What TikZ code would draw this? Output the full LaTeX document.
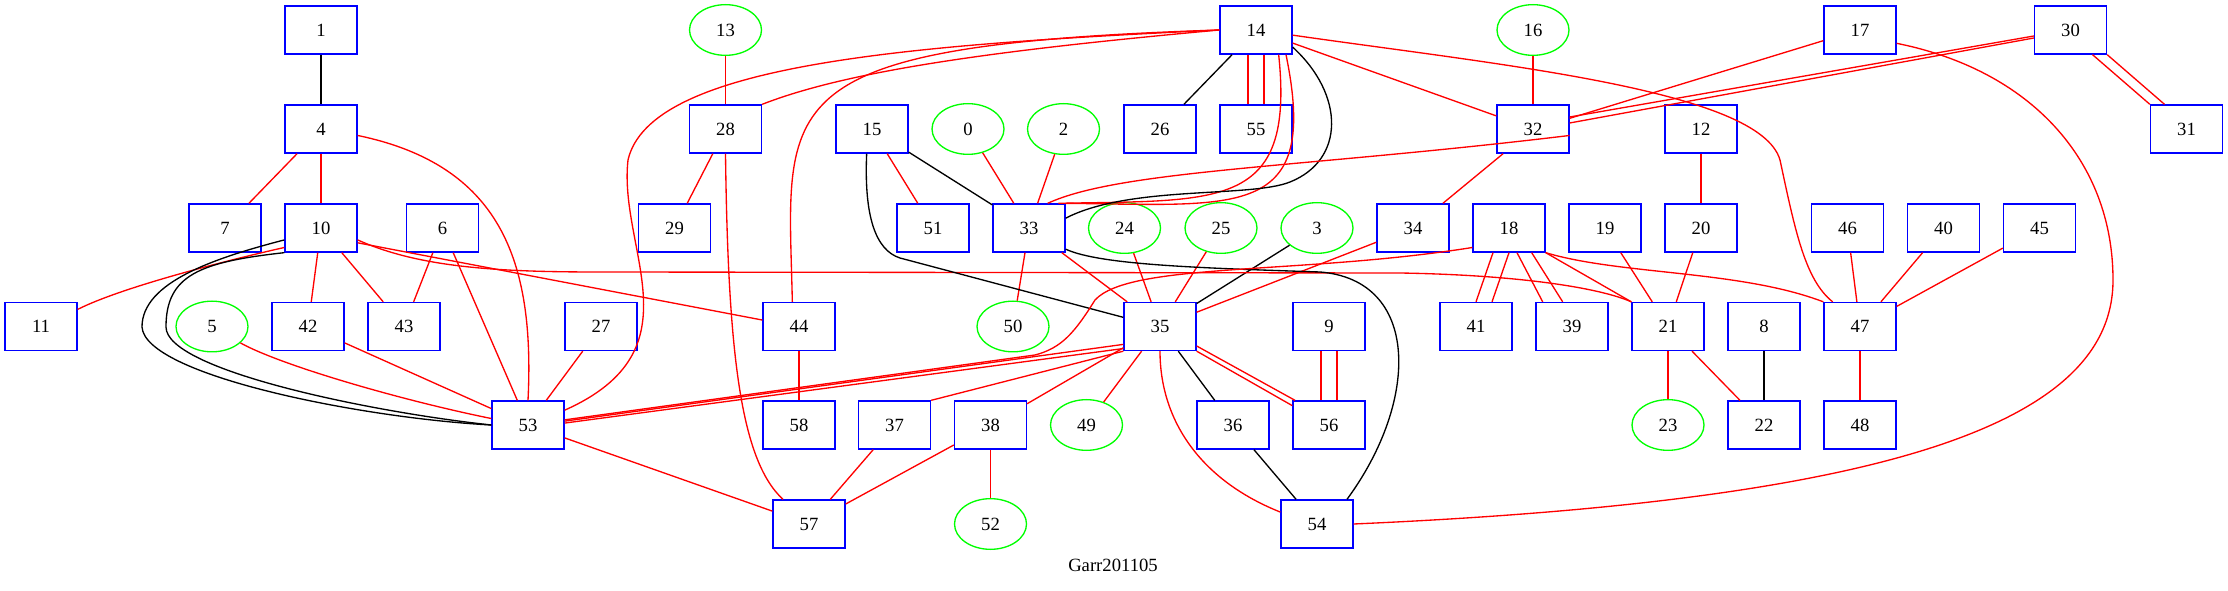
\documentclass[tikz,border=0pt]{standalone}
\usepackage{fontspec}
\setmainfont{Liberation Serif}
\usetikzlibrary{shapes.geometric}

\begin{document}
\begin{tikzpicture}[x=0.75pt,y=-0.75pt,line width=1pt,
	font=\fontsize{14}{16}\selectfont,
	rtr/.style={draw=blue,rectangle,minimum width=54pt,minimum height=36pt,inner sep=0pt},
	hst/.style={draw=green,ellipse,minimum width=54pt,minimum height=38pt,inner sep=0pt},
	rl/.style={draw=red},
	kl/.style={draw=black}]
	\useasboundingbox (0,0) rectangle (2228,591);

	% rang 1
	\node[rtr] (n1) at (321,30) {1};
	\node[hst] (n13) at (725.5,30) {13};
	\node[rtr] (n14) at (1256,30) {14};
	\node[hst] (n16) at (1533,30) {16};
	\node[rtr] (n17) at (1860,30) {17};
	\node[rtr] (n30) at (2070.5,30) {30};

	% rang 2
	\node[rtr] (n4) at (321,129) {4};
	\node[rtr] (n28) at (725.5,129) {28};
	\node[rtr] (n15) at (872,129) {15};
	\node[hst] (n0) at (968,129) {0};
	\node[hst] (n2) at (1063.5,129) {2};
	\node[rtr] (n26) at (1160,129) {26};
	\node[rtr] (n55) at (1256,129) {55};
	\node[rtr] (n32) at (1533,129) {32};
	\node[rtr] (n12) at (1701,129) {12};
	\node[rtr] (n31) at (2186.5,129) {31};

	% rang 3
	\node[rtr] (n7) at (225,228) {7};
	\node[rtr] (n10) at (321,228) {10};
	\node[rtr] (n6) at (442.5,228) {6};
	\node[rtr] (n29) at (674.5,228) {29};
	\node[rtr] (n51) at (933,228) {51};
	\node[rtr] (n33) at (1029,228) {33};
	\node[hst] (n24) at (1124.5,228) {24};
	\node[hst] (n25) at (1221,228) {25};
	\node[hst] (n3) at (1317,228) {3};
	\node[rtr] (n34) at (1413,228) {34};
	\node[rtr] (n18) at (1509,228) {18};
	\node[rtr] (n19) at (1605,228) {19};
	\node[rtr] (n20) at (1701,228) {20};
	\node[rtr] (n46) at (1847.5,228) {46};
	\node[rtr] (n40) at (1943.5,228) {40};
	\node[rtr] (n45) at (2039.5,228) {45};

	% rang 4
	\node[rtr] (n11) at (41,326.5) {11};
	\node[hst] (n5) at (212,326.5) {5};
	\node[rtr] (n42) at (308,326.5) {42};
	\node[rtr] (n43) at (404,326.5) {43};
	\node[rtr] (n27) at (601,326.5) {27};
	\node[rtr] (n44) at (799,326.5) {44};
	\node[hst] (n50) at (1013,326.5) {50};
	\node[rtr] (n35) at (1160,326.5) {35};
	\node[rtr] (n9) at (1329,326.5) {9};
	\node[rtr] (n41) at (1476,326.5) {41};
	\node[rtr] (n39) at (1572,326.5) {39};
	\node[rtr] (n21) at (1668,326.5) {21};
	\node[rtr] (n8) at (1764,326.5) {8};
	\node[rtr] (n47) at (1860,326.5) {47};

	% rang 5
	\node[rtr] (n53) at (528,425) {53};
	\node[rtr] (n58) at (799,425) {58};
	\node[rtr] (n37) at (894.5,425) {37};
	\node[rtr] (n38) at (990.5,425) {38};
	\node[hst] (n49) at (1086.5,425) {49};
	\node[rtr] (n36) at (1233,425) {36};
	\node[rtr] (n56) at (1329,425) {56};
	\node[hst] (n23) at (1668,425) {23};
	\node[rtr] (n22) at (1764,425) {22};
	\node[rtr] (n48) at (1860,425) {48};

	% rang 6
	\node[rtr] (n57) at (809,524) {57};
	\node[hst] (n52) at (990.5,524) {52};
	\node[rtr] (n54) at (1317,524) {54};

	\node (title) at (1113,565) {Garr201105};

	% liens droits
	\draw[kl] (n1) -- (n4);
	\draw[rl] (n4) -- (n7);
	\draw[rl] (n4) -- (n10);
	\draw[rl] (n13) -- (n28);
	\draw[rl] (n28) -- (n29);
	\draw[rl] (n10) -- (n42);
	\draw[rl] (n10) -- (n43);
	\draw[rl] (n6) -- (n43);
	\draw[rl] (n6) -- (n53);
	\draw[rl] (n42) -- (n53);
	\draw[rl] (n27) -- (n53);
	\draw[rl] (n53) -- (n57);
	\draw[rl] (n37) -- (n57);
	\draw[rl] (n38) -- (n57);
	\draw[rl] (n38) -- (n52);
	\draw[rl] (n44) -- (n58);
	\draw[rl] (n10.-22) -- (n44.170);
	\draw[rl] (n15) -- (n51);
	\draw[kl] (n15) -- (n33);
	\draw[rl] (n0) -- (n33);
	\draw[rl] (n2) -- (n33);
	\draw[rl] (n33) -- (n50);
	\draw[rl] (n33) -- (n35);
	\draw[kl] (n14) -- (n26);
	\draw[rl] (n14) -- (n32);
	\draw[rl] (n16) -- (n32);
	\draw[rl] (n32) -- (n34);
	\draw[rl] (n12) -- (n20);
	\draw[rl] (n24) -- (n35);
	\draw[rl] (n25) -- (n35);
	\draw[kl] (n3) -- (n35);
	\draw[rl] (n34) -- (n35);
	\draw[rl] (n35.south west) -- (n37.north east);
	\draw[rl] (n35) -- (n38);
	\draw[rl] (n35) -- (n49);
	\draw[kl] (n35) -- (n36);
	\draw[kl] (n36) -- (n54);
	\draw[rl] (n19) -- (n21);
	\draw[rl] (n20) -- (n21);
	\draw[rl] (n18.south east) -- (n21.north west);
	\draw[rl] (n21) -- (n23);
	\draw[rl] (n21) -- (n22);
	\draw[kl] (n8) -- (n22);
	\draw[rl] (n46) -- (n47);
	\draw[rl] (n40) -- (n47);
	\draw[rl] (n45) -- (n47);
	\draw[rl] (n47) -- (n48);
	\draw[rl] ([yshift=-8pt]n17.west) -- ([yshift=8pt]n32.east);

	% liens doubles
	\draw[rl] ([xshift=-6pt]n14.south) -- ([xshift=-6pt]n55.north);
	\draw[rl] ([xshift=6pt]n14.south) -- ([xshift=6pt]n55.north);
	\draw[rl] ([xshift=-6pt]n9.south) -- ([xshift=-6pt]n56.north);
	\draw[rl] ([xshift=6pt]n9.south) -- ([xshift=6pt]n56.north);
	\draw[rl] ([xshift=-11pt]n30.south east) -- (n31.north west);
	\draw[rl] (n30.south east) -- ([xshift=11pt]n31.north west);
	\draw[rl] ([yshift=-4.5pt]n30.west) -- ([yshift=9pt]n32.east);
	\draw[rl] ([yshift=-6pt]n30.west) -- ([yshift=4.5pt]n32.east);
	\draw[rl] (n35.-28) -- ([xshift=2pt]n56.north west);
	\draw[rl] (n35.south east) -- ([yshift=-4pt]n56.north west);
	\draw[rl] (n35.206) -- (n53.6);
	\draw[rl] (n35.211) -- (n53.3);
	\draw[rl] ([xshift=-12pt]n18.south) -- (n41.north);
	\draw[rl] (n18.south) -- ([xshift=12pt]n41.north);
	\draw[rl] ([xshift=6pt]n18.south) -- ([xshift=-22pt]n39.north);
	\draw[rl] ([xshift=17pt]n18.south) -- ([xshift=-7pt]n39.north);

	% liens courbes
	\draw[rl] (n4.-10) .. controls (500,165) and (535,260) .. (n53.north);
	\draw[rl] (n10.208) .. controls (220,262) and (120,288) .. (n11.25);
	\draw[kl] (n10.198) .. controls (215,258) and (142,282) .. (142,327) .. controls (145,375) and (360,418) .. (n53.west);
	\draw[kl] (n10.south west) .. controls (200,262) and (166,275) .. (166,327) .. controls (166,370) and (370,412) .. (n53.west);
	\draw[rl] (n10.-18) .. controls (420,268) and (500,272) .. (600,272) -- (1400,273) .. controls (1520,275) and (1600,288) .. (n21.north west);
	\draw[rl] (n5.-30) .. controls (280,365) and (400,400) .. (n53.170);
	\draw[rl] (n14.west) .. controls (900,45) and (650,65) .. (628,160) .. controls (618,250) and (700,350) .. (n53.22);
	\draw[rl] (n14.west) .. controls (760,45) and (788,100) .. ([xshift=-5pt]n44.north);
	\draw[rl] (n14.west) .. controls (1000,50) and (850,70) .. (n28.north east);
	\draw[rl] (n28.south) .. controls (728,350) and (740,460) .. ([xshift=8pt]n57.north west);
	\draw[rl] ([xshift=17pt]n14.south) .. controls (1295,210) and (1220,200) .. ([xshift=22pt]n33.north);
	\draw[rl] ([xshift=22.5pt]n14.south) .. controls (1320,220) and (1240,205) .. (n33.north east);
	\draw[kl] (n14.-25) .. controls (1345,95) and (1345,160) .. (1290,182) .. controls (1250,198) and (1130,185) .. (n33.15);
	\draw[rl] (n32.-10) .. controls (1300,168) and (1120,170) .. ([xshift=14pt]n33.north);
	\draw[kl] ([xshift=-4pt]n15.south) .. controls (864,215) and (875,250) .. (900,258) -- (n35.166);
	\draw[kl] (n33.-30) .. controls (1100,265) and (1200,268) .. (1320,272) .. controls (1420,280) and (1420,400) .. ([xshift=-5pt]n54.north east);
	\draw[rl] (n35.south) .. controls (1160,420) and (1200,480) .. (n54.162);
	\draw[rl] (n18.208) .. controls (1300,275) and (1130,262) .. (1095,300) .. controls (1075,332) and (1062,348) .. (1035,355) -- (n53.8);
	\draw[rl] (n18.south east) .. controls (1620,275) and (1740,270) .. (n47.north west);
	\draw[rl] (n14.-8) .. controls (1500,65) and (1760,90) .. (1780,160) .. controls (1795,230) and (1805,280) .. ([xshift=7pt]n47.north west);
	\draw[rl] (n17.-20) .. controls (2030,70) and (2113,160) .. (2113,280) .. controls (2113,420) and (1900,500) .. (n54.east);
\end{tikzpicture}
\end{document}
